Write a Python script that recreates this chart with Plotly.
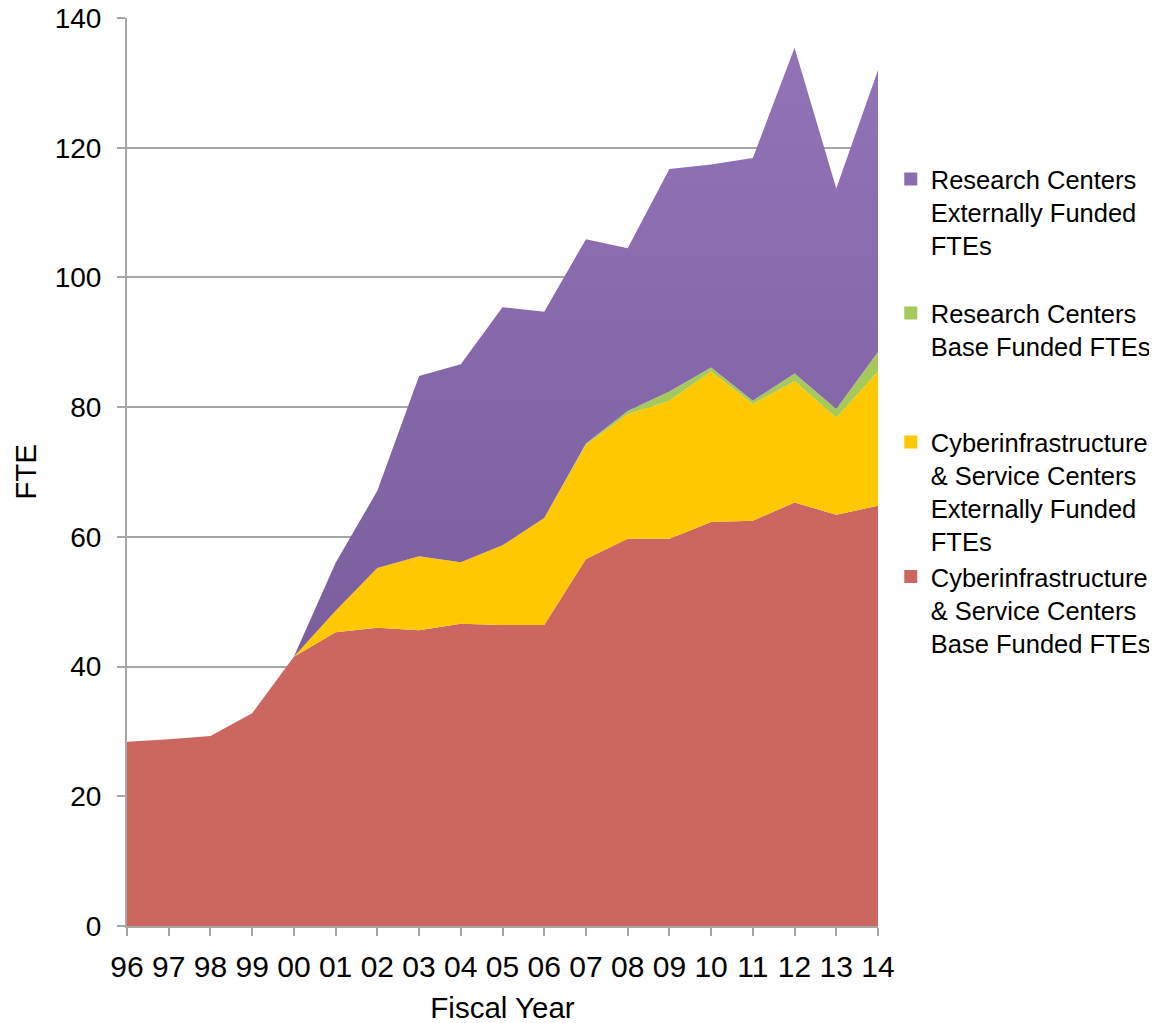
import plotly.graph_objects as go

years = ["96", "97", "98", "99", "00", "01", "02", "03", "04", "05",
         "06", "07", "08", "09", "10", "11", "12", "13", "14"]
cyber_base = [28.4, 28.8, 29.3, 32.8, 41.5, 45.3, 46.0, 45.6, 46.6, 46.4,
              46.4, 56.6, 59.7, 59.7, 62.3, 62.5, 65.3, 63.4, 64.8]
cyber_ext = [0, 0, 0, 0, 0, 3.3, 9.2, 11.4, 9.5, 12.3,
             16.5, 17.6, 19.2, 21.3, 23.2, 18.0, 18.7, 15.0, 20.7]
rc_base = [0, 0, 0, 0, 0, 0, 0, 0, 0, 0,
           0, 0.2, 0.5, 1.4, 0.6, 0.5, 1.2, 1.3, 3.0]
rc_ext = [0, 0, 0, 0, 0, 7.4, 11.9, 27.8, 30.5, 36.7,
          31.8, 31.5, 25.1, 34.3, 31.3, 37.4, 50.2, 34.0, 43.5]

names = [
    "Cyberinfrastructure<br>& Service Centers<br>Base Funded FTEs",
    "Cyberinfrastructure<br>& Service Centers<br>Externally Funded<br>FTEs",
    "Research Centers<br>Base Funded FTEs",
    "Research Centers<br>Externally Funded<br>FTEs",
]
colors = ["#CC6660", "#FFC800", "#A6C95C", "#8A6CAF"]
series = [cyber_base, cyber_ext, rc_base, rc_ext]

FONT = "Liberation Sans, Arial, Helvetica, sans-serif"

fig = go.Figure()
for i, (vals, col) in enumerate(zip(series, colors)):
    kw = {}
    if i == 3:
        kw["fillgradient"] = dict(type="vertical",
                                  colorscale=[[0, "#7A5E9C"], [1, "#9273B8"]],
                                  start=40, stop=136)
    fig.add_trace(go.Scatter(
        x=years, y=vals, stackgroup="one", mode="none",
        fillcolor=col, line=dict(width=0), showlegend=False,
        hoverinfo="x+y", **kw))

# legend entries (square swatches)
legend_ids = ["legend4", "legend3", "legend2", "legend"]
for i, (nm, col) in enumerate(zip(names, colors)):
    fig.add_trace(go.Scatter(
        x=[None], y=[None], mode="markers", name=nm,
        marker=dict(symbol="square", size=13, color=col),
        legend=legend_ids[i], showlegend=True))

leg_y = {"legend": 0.7858, "legend2": 0.6564, "legend3": 0.4780, "legend4": 0.3480}
leg_common = dict(x=1.017, xanchor="left", yanchor="middle",
                  font=dict(family=FONT, size=25.5, color="#000000"),
                  valign="top", bgcolor="rgba(0,0,0,0)", borderwidth=0)

layout_legends = {k: dict(y=v, **leg_common) for k, v in leg_y.items()}

# the page body has an 8px margin, so margins are offset to compensate
fig.update_layout(
    width=1157, height=1023,
    margin=dict(l=119, r=287, t=10, b=105, autoexpand=False),
    paper_bgcolor="white", plot_bgcolor="white",
    font=dict(family=FONT, size=30, color="#000000"),
    **layout_legends,
)

fig.update_xaxes(
    type="category", range=[0, 18], automargin=False,
    title=dict(text="Fiscal Year", font=dict(size=29.5), standoff=15),
    showgrid=False, showline=True, linecolor="#A6A6A6", linewidth=2,
    ticks="outside", ticklen=8, tickwidth=2, tickcolor="#A6A6A6",
    tickfont=dict(size=30), ticklabelstandoff=5, zeroline=False,
    ticklabeloverflow="allow",
)
fig.update_yaxes(
    range=[0, 140], tickvals=[0, 20, 40, 60, 80, 100, 120, 140], automargin=False,
    title=dict(text="FTE", font=dict(size=29.5), standoff=9),
    showgrid=True, gridcolor="#A6A6A6", gridwidth=1.5,
    showline=True, linecolor="#A6A6A6", linewidth=2,
    ticks="outside", ticklen=8, tickwidth=2, tickcolor="#A6A6A6",
    tickfont=dict(size=28), ticklabelstandoff=10, zeroline=False,
    ticklabeloverflow="allow",
)

fig.write_html("out.html")
